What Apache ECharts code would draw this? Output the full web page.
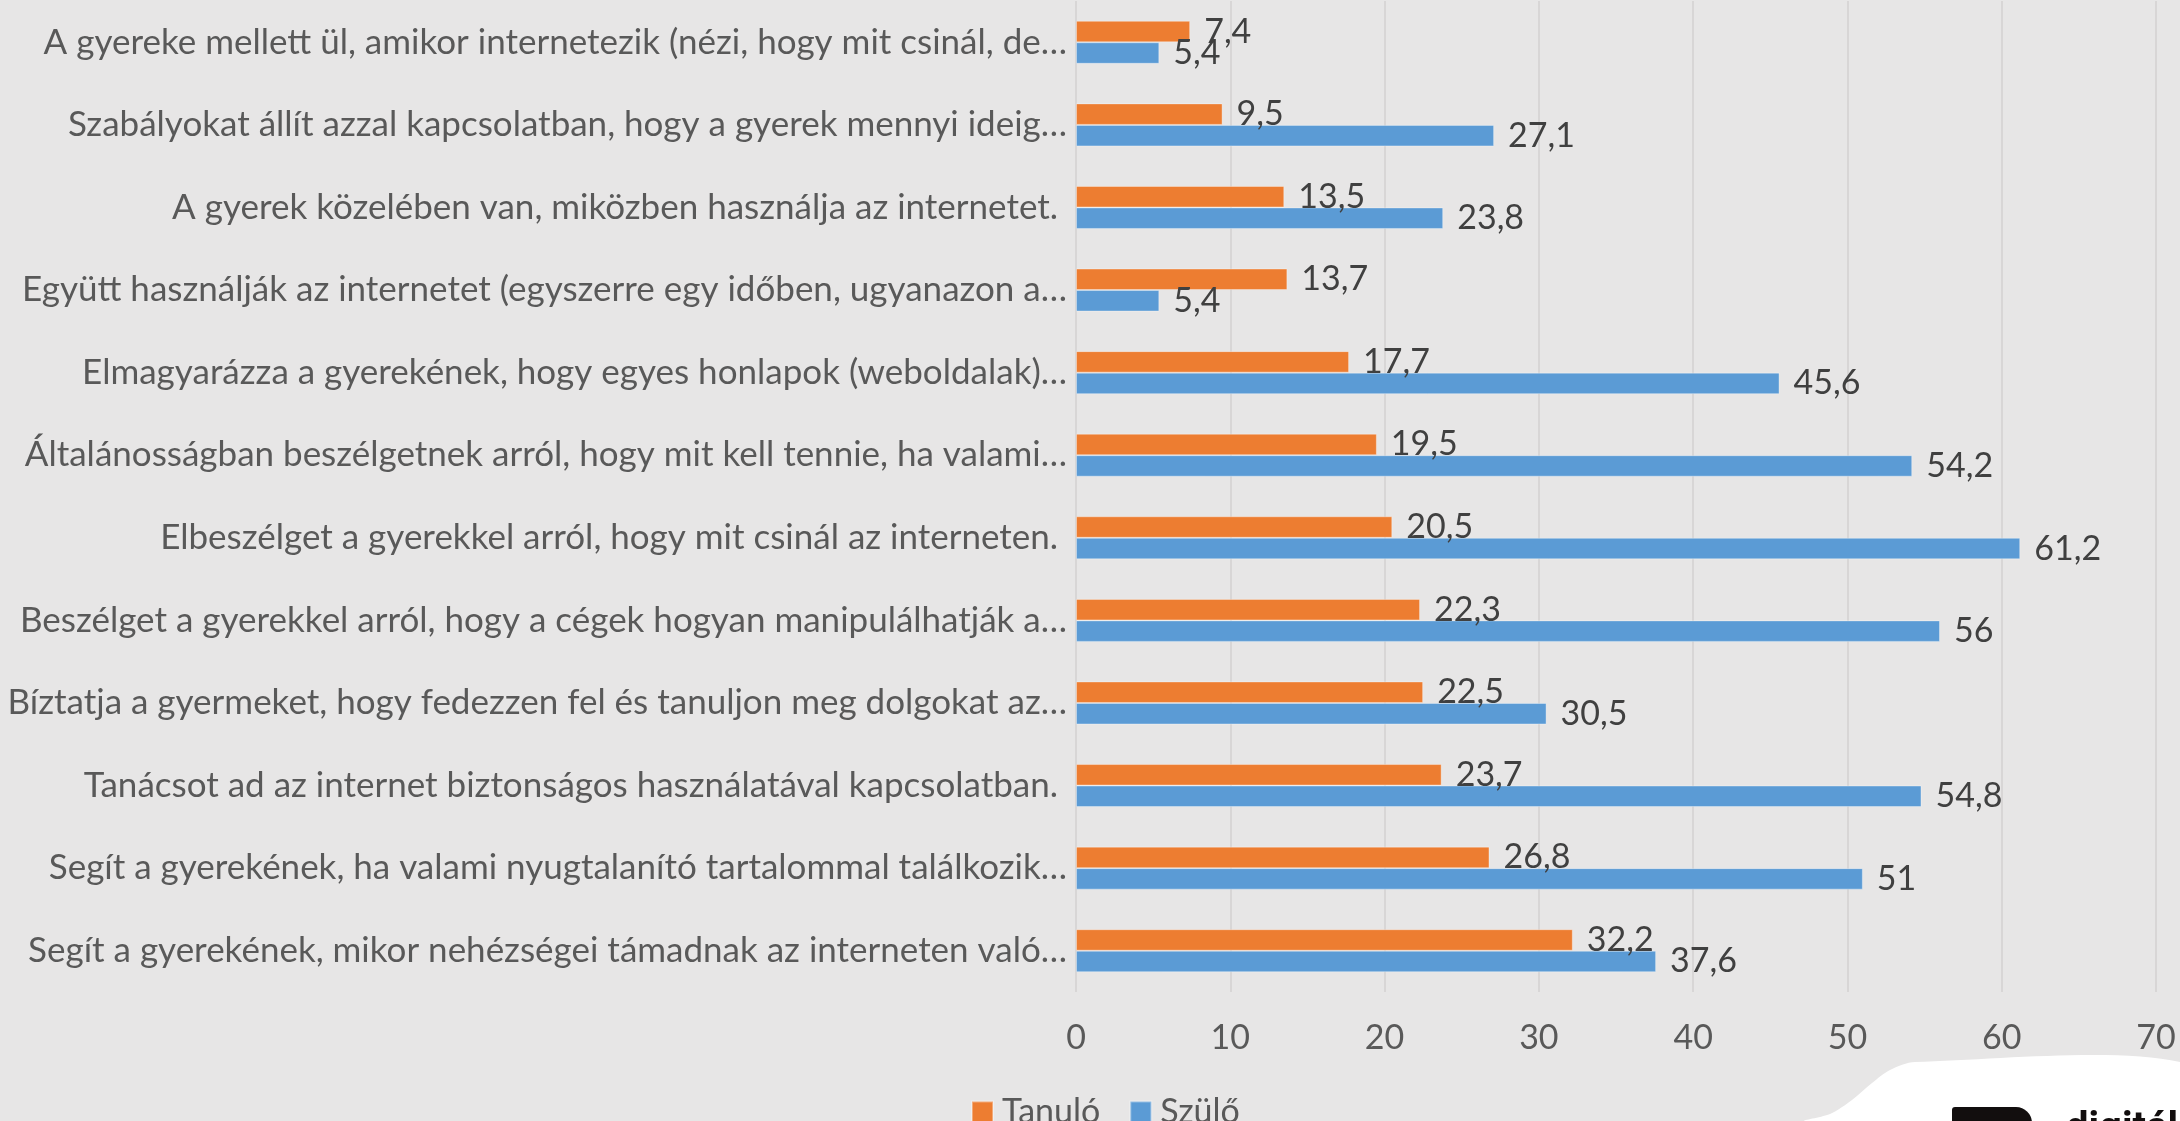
<!DOCTYPE html>
<html>
<head>
<meta charset="utf-8">
<style>
html, body { margin: 0; padding: 0; background: #E7E6E6; }
#chart { width: 2180px; height: 1121px; }
</style>
<script src="https://cdn.jsdelivr.net/npm/echarts@6/dist/echarts.min.js"></script>
</head>
<body>
<div id="chart"></div>
<script>
// kategóriák felülről lefelé
var categories = [
    'A gyereke mellett ül, amikor internetezik (nézi, hogy mit csinál, de…',
    'Szabályokat állít azzal kapcsolatban, hogy a gyerek mennyi ideig…',
    'A gyerek közelében van, miközben használja az internetet. ',
    'Együtt használják az internetet (egyszerre egy időben, ugyanazon a…',
    'Elmagyarázza a gyerekének, hogy egyes honlapok (weboldalak)…',
    'Általánosságban beszélgetnek arról, hogy mit kell tennie, ha valami…',
    'Elbeszélget a gyerekkel arról, hogy mit csinál az interneten. ',
    'Beszélget a gyerekkel arról, hogy a cégek hogyan manipulálhatják a…',
    'Bíztatja a gyermeket, hogy fedezzen fel és tanuljon meg dolgokat az…',
    'Tanácsot ad az internet biztonságos használatával kapcsolatban. ',
    'Segít a gyerekének, ha valami nyugtalanító tartalommal találkozik…',
    'Segít a gyerekének, mikor nehézségei támadnak az interneten való…'
];
var tanulo = [7.4, 9.5, 13.5, 13.7, 17.7, 19.5, 20.5, 22.3, 22.5, 23.7, 26.8, 32.2];
var szulo = [5.4, 27.1, 23.8, 5.4, 45.6, 54.2, 61.2, 56, 30.5, 54.8, 51, 37.6];
var xTicks = [0, 10, 20, 30, 40, 50, 60, 70];

var font = 'Lato';
var szamLabel = {
    show: true,
    position: 'right',
    distance: 14,
    fontFamily: font,
    fontSize: 34,
    color: '#404040',
    formatter: function (p) { return String(p.value).replace('.', ','); }
};

var chart = echarts.init(document.getElementById('chart'));
chart.setOption({
    backgroundColor: '#E7E6E6',
    animation: false,
    color: ['#ED7D31', '#5B9BD5'],
    grid: { left: 1076, right: 24, top: 1, bottom: 129, containLabel: false },
    legend: {
        data: ['Tanuló', 'Szülő'],
        left: 966,
        top: 1090,
        icon: 'rect',
        itemWidth: 21,
        itemHeight: 21,
        itemGap: 29,
        textStyle: { fontFamily: font, fontSize: 34, color: '#595959', padding: [0, 0, 0, 4] }
    },
    xAxis: {
        type: 'value',
        min: xTicks[0],
        max: xTicks[xTicks.length - 1],
        interval: xTicks[1] - xTicks[0],
        axisLine: { show: false },
        axisTick: { show: false },
        splitLine: { lineStyle: { color: '#D3D1D1', width: 1.5 } },
        axisLabel: { fontFamily: font, fontSize: 34, color: '#595959', margin: 29 }
    },
    yAxis: {
        type: 'category',
        inverse: true,
        data: categories,
        axisLine: { show: false },
        axisTick: { show: false },
        axisLabel: { fontFamily: font, fontSize: 35, color: '#595959', margin: 9 }
    },
    series: [
        {
            name: 'Tanuló',
            type: 'bar',
            barWidth: 21.5,
            barGap: '0%',
            itemStyle: { borderColor: 'rgba(255,255,255,0.35)', borderWidth: 1 },
            label: szamLabel,
            data: tanulo
        },
        {
            name: 'Szülő',
            type: 'bar',
            barWidth: 21.5,
            barGap: '0%',
            itemStyle: { borderColor: 'rgba(255,255,255,0.35)', borderWidth: 1 },
            label: szamLabel,
            data: szulo
        }
    ],
    // logó a jobb alsó sarokban
    graphic: [
        {
            type: 'polygon',
            shape: {
                points: [[1805, 1121], [1830, 1114], [1852, 1100], [1872, 1083], [1890, 1070], [1915, 1062], [2180, 1062], [2180, 1121]],
                smooth: 0.3
            },
            style: { fill: '#FFFFFF' }
        },
        {
            type: 'rect',
            shape: { x: 1952, y: 1107, width: 80, height: 40, r: [3, 16, 0, 0] },
            style: { fill: '#120E0E' }
        },
        {
            type: 'text',
            x: 2066,
            y: 1110,
            style: { text: 'digitális', fontFamily: 'Roboto', fontWeight: 'bold', fontSize: 40, fill: '#120E0E', verticalAlign: 'top' }
        }
    ]
});
</script>
</body>
</html>
